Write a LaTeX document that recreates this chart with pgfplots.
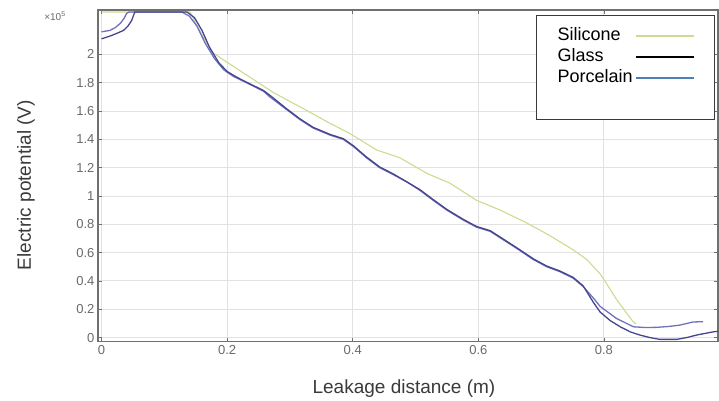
\documentclass[border=0pt]{standalone}
\usepackage{pgfplots}
\pgfplotsset{compat=1.18}
\usepackage{fontspec}
\setmainfont{Liberation Sans}
\definecolor{silc}{HTML}{C9DC90}
\definecolor{glassc}{HTML}{46468F}
\definecolor{porc}{HTML}{7070C2}
\definecolor{legporc}{HTML}{4E7FB6}
\definecolor{framec}{HTML}{707070}
\definecolor{gridc}{HTML}{E2E2E2}
\definecolor{tickc}{HTML}{6A6A6A}
\definecolor{labc}{HTML}{3A3A3A}
\begin{document}
\begin{tikzpicture}[x=1pt,y=1pt]
\useasboundingbox (0,0) rectangle (719,400);
\begin{axis}[
  at={(98pt,58.5pt)}, anchor=south west,
  scale only axis, width=620pt, height=331.5pt,
  xmin=-0.0056, xmax=0.9817, ymin=-0.028, ymax=2.314,
  xtick={0,0.2,0.4,0.6,0.8},
  ytick={0,0.2,0.4,0.6,0.8,1,1.2,1.4,1.6,1.8,2},
  xticklabels={0,0.2,0.4,0.6,0.8},
  yticklabels={0,0.2,0.4,0.6,0.8,1,1.2,1.4,1.6,1.8,2},
  /pgf/number format/assume math mode=true,
  tick label style={font=\fontsize{13}{15}\selectfont, text=tickc},
  tick align=inside, major tick length=4pt,
  tick style={framec, line width=0.8pt},
  axis line style={framec, line width=1.2pt},
  grid=major, grid style={gridc, line width=0.9pt},
  xlabel={Leakage distance (m)},
  ylabel={Electric potential (V)},
  label style={font=\fontsize{19}{22}\selectfont, text=labc},
  x label style={at={(rel axis cs:0.4935,0)}, anchor=base, yshift=-51.5pt},
  y label style={at={(axis description cs:-0.116,0.472)}, anchor=center},
  legend style={at={(rel axis cs:0.995,0.985)}, anchor=north east,
    draw=labc, line width=1pt, fill=white,
    font=\fontsize{18}{20}\selectfont,
    inner xsep=20pt, inner ysep=11pt, row sep=2pt,
    nodes={inner sep=1pt, text height=13pt, text depth=4pt}},
  legend cell align=left,
  legend plot pos=right,
  legend image code/.code={\draw[#1] (2pt,0pt) -- (60pt,0pt);},
]
\addlegendimage{silc, line width=1.6pt}
\addlegendentry{Silicone}
\addlegendimage{black, line width=1.6pt}
\addlegendentry{Glass}
\addlegendimage{legporc, line width=1.6pt}
\addlegendentry{Porcelain}
\addlegendimage{empty legend}
\addlegendentry{}

% Silicone
\addplot[silc, line width=1.1pt, forget plot] coordinates {
(0,2.30) (0.141,2.30) (0.15,2.22) (0.165,2.10) (0.178,2.01) (0.205,1.93)
(0.236,1.84) (0.274,1.73) (0.316,1.63) (0.359,1.525) (0.396,1.44)
(0.438,1.325) (0.475,1.27) (0.518,1.16) (0.555,1.09) (0.597,0.97)
(0.635,0.90) (0.677,0.81) (0.714,0.72) (0.751,0.62) (0.773,0.55)
(0.794,0.45) (0.80,0.41) (0.82,0.27) (0.845,0.12) (0.851,0.095)
};
% Porcelain
\addplot[porc, line width=1.3pt, forget plot] coordinates {
(0,2.16) (0.007,2.165) (0.0135,2.17) (0.022,2.19) (0.03,2.22) (0.036,2.255)
(0.04,2.29) (0.044,2.30) (0.128,2.30) (0.14,2.27) (0.152,2.20) (0.165,2.08)
(0.18,1.97) (0.195,1.89) (0.21,1.845) (0.231,1.80) (0.258,1.74) (0.268,1.70)
(0.295,1.61) (0.316,1.54) (0.337,1.48) (0.364,1.43) (0.385,1.40) (0.401,1.35)
(0.422,1.27) (0.443,1.20) (0.465,1.15) (0.486,1.10) (0.507,1.04) (0.528,0.97)
(0.550,0.90) (0.576,0.83) (0.597,0.78) (0.619,0.75) (0.640,0.69) (0.661,0.63)
(0.688,0.55) (0.709,0.50) (0.730,0.465) (0.751,0.42) (0.767,0.36) (0.783,0.28)
(0.794,0.22) (0.82,0.135) (0.847,0.076) (0.865,0.071) (0.884,0.072)
(0.903,0.078) (0.921,0.088) (0.942,0.11) (0.958,0.112)
};
% Glass
\addplot[glassc, line width=1.3pt, forget plot] coordinates {
(0,2.11) (0.0135,2.13) (0.025,2.15) (0.035,2.17) (0.042,2.20) (0.048,2.24)
(0.053,2.30) (0.136,2.30) (0.148,2.26) (0.16,2.17) (0.172,2.05) (0.187,1.94)
(0.2,1.88) (0.215,1.84) (0.235,1.795) (0.258,1.745) (0.27,1.705) (0.295,1.615)
(0.316,1.545) (0.337,1.485) (0.364,1.435) (0.385,1.405) (0.401,1.355)
(0.422,1.275) (0.443,1.205) (0.465,1.155) (0.486,1.10) (0.507,1.045)
(0.528,0.975) (0.550,0.905) (0.576,0.835) (0.597,0.785) (0.619,0.755)
(0.640,0.695) (0.661,0.635) (0.688,0.555) (0.709,0.505) (0.730,0.47)
(0.751,0.425) (0.767,0.365) (0.783,0.25) (0.794,0.18) (0.81,0.12)
(0.826,0.076) (0.842,0.04) (0.857,0.018) (0.873,0.0) (0.889,-0.013)
(0.916,-0.013) (0.932,0.0) (0.948,0.018) (0.962,0.03) (0.974,0.04) (0.983,0.045)
};
\end{axis}
\node[font=\fontsize{10}{11}\selectfont, text=tickc] at (55,384) {×10\textsuperscript{5}};
\end{tikzpicture}
\end{document}
